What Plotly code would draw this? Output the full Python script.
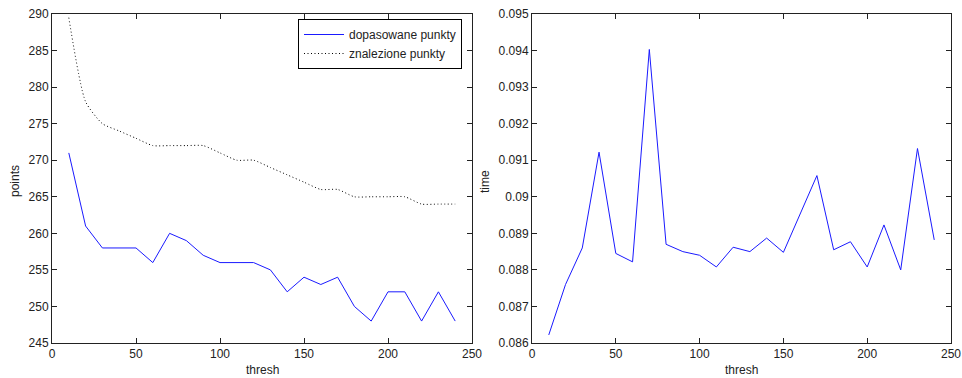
import plotly.graph_objects as go
from plotly.subplots import make_subplots

thresh = [10, 20, 30, 40, 50, 60, 70, 80, 90, 100, 110, 120,
          130, 140, 150, 160, 170, 180, 190, 200, 210, 220, 230, 240]
dopasowane = [271, 261, 258, 258, 258, 256, 260, 259, 257, 256, 256, 256,
              255, 252, 254, 253, 254, 250, 248, 252, 252, 248, 252, 248]
znalezione = [289.5, 278, 275, 274, 273, 272, 272, 272, 272, 271, 270, 270,
              269, 268, 267, 266, 266, 265, 265, 265, 265, 264, 264, 264]
time_vals = [0.08622, 0.08760, 0.08860, 0.09122, 0.08845, 0.08822, 0.09403, 0.08870,
             0.08850, 0.08840, 0.08808, 0.08862, 0.08850, 0.08887, 0.08848, 0.08955,
             0.09058, 0.08855, 0.08877, 0.08808, 0.08923, 0.08800, 0.09132, 0.08882]

x_ticks = [0, 50, 100, 150, 200, 250]
y1_ticks = [245, 250, 255, 260, 265, 270, 275, 280, 285, 290]
y2_ticks = [0.086, 0.087, 0.088, 0.089, 0.090, 0.091, 0.092, 0.093, 0.094, 0.095]
y2_ticktext = ["0.086", "0.087", "0.088", "0.089", "0.09", "0.091", "0.092", "0.093", "0.094", "0.095"]

W, H = 962, 378
FONT = "Liberation Sans, Arial, sans-serif"


def px(x):
    return x / W


def py(y):
    return 1 - y / H


fig = make_subplots(rows=1, cols=2)

fig.add_trace(go.Scatter(x=thresh, y=dopasowane, mode="lines", name="dopasowane punkty",
                         line=dict(color="#1a1aff", width=1)), row=1, col=1)
fig.add_trace(go.Scatter(x=thresh, y=znalezione, mode="lines", name="znalezione punkty",
                         line=dict(color="#000000", width=1, dash="1px,2.5px", shape="spline", smoothing=0.6)),
              row=1, col=1)
fig.add_trace(go.Scatter(x=thresh, y=time_vals, mode="lines", showlegend=False,
                         line=dict(color="#1a1aff", width=1)), row=1, col=2)

axis_common = dict(showline=True, linecolor="#222222", linewidth=1, mirror="ticks",
                   ticks="inside", ticklen=5, tickcolor="#222222", showgrid=False,
                   zeroline=False, tickfont=dict(family=FONT, size=12, color="#222222"),
                   automargin=False, ticklabeloverflow="allow")

fig.update_xaxes(axis_common)
fig.update_yaxes(axis_common)

fig.update_layout(
    width=W, height=H,
    margin=dict(l=0, r=0, t=0, b=0),
    paper_bgcolor="white", plot_bgcolor="white",
    font=dict(family=FONT, size=12, color="#222222"),
    xaxis=dict(domain=[px(52), px(472)], range=[0, 250], tickvals=x_ticks),
    yaxis=dict(domain=[py(343), py(14)], range=[245, 290], tickvals=y1_ticks),
    xaxis2=dict(domain=[px(532), px(951)], range=[0, 250], tickvals=x_ticks),
    yaxis2=dict(domain=[py(343), py(14)], range=[0.086, 0.095],
                tickvals=y2_ticks, ticktext=y2_ticktext),
    legend=dict(x=px(298), y=py(19), xanchor="left", yanchor="top",
                bgcolor="white", bordercolor="#000000", borderwidth=1,
                font=dict(family=FONT, size=12, color="#222222"),
                itemwidth=40, tracegroupgap=0),
    annotations=[
        dict(text="thresh", x=px(262), y=py(370), xref="paper", yref="paper",
             showarrow=False, xanchor="center", yanchor="middle", font=dict(size=12)),
        dict(text="thresh", x=px(741), y=py(370), xref="paper", yref="paper",
             showarrow=False, xanchor="center", yanchor="middle", font=dict(size=12)),
        dict(text="points", x=px(15), y=py(181), xref="paper", yref="paper",
             showarrow=False, xanchor="center", yanchor="middle", textangle=-90, font=dict(size=12)),
        dict(text="time", x=px(485), y=py(182), xref="paper", yref="paper",
             showarrow=False, xanchor="center", yanchor="middle", textangle=-90, font=dict(size=12)),
    ],
)

fig.write_html(
    "out.html",
    config={"displayModeBar": False},
    post_script="document.body.style.margin='0px';document.body.style.overflow='hidden';"
                "document.documentElement.style.overflow='hidden';",
)
